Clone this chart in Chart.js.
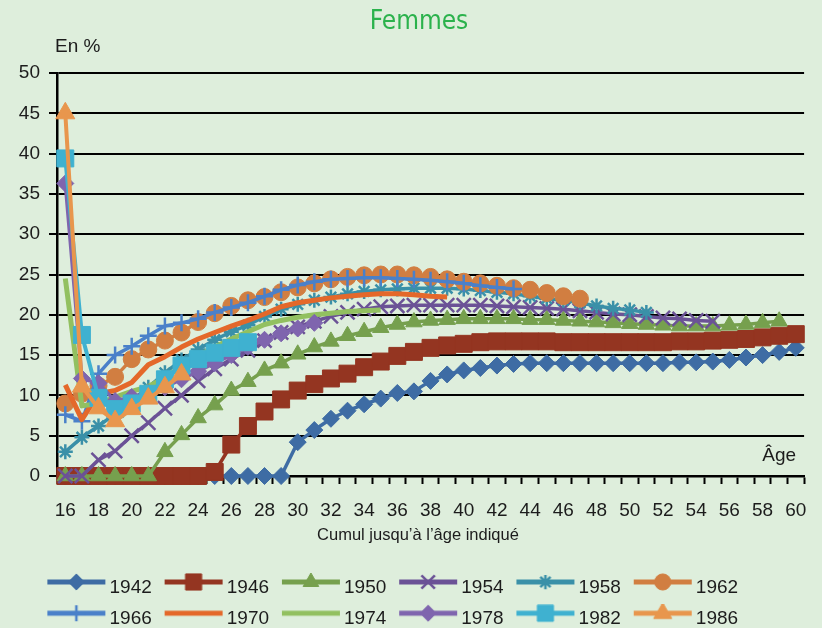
<!DOCTYPE html>
<html lang="fr">
<head>
<meta charset="utf-8">
<title>Femmes</title>
<script src="https://cdn.jsdelivr.net/npm/chart.js@4.4.1/dist/chart.umd.min.js"></script>
<style>
  html, body { margin: 0; padding: 0; background: #deeedc; }
  #wrap { width: 822px; height: 628px; }
</style>
</head>
<body>
<div id="wrap"><canvas id="chart" width="822" height="628"></canvas></div>
<script>
// ages on the x axis (cumul jusqu'à l'âge indiqué)
const ages = [16, 17, 18, 19, 20, 21, 22, 23, 24, 25, 26, 27, 28, 29, 30, 31, 32, 33, 34, 35, 36, 37, 38,
  39, 40, 41, 42, 43, 44, 45, 46, 47, 48, 49, 50, 51, 52, 53, 54, 55, 56, 57, 58, 59, 60];
const cohorts = ['1942', '1946', '1950', '1954', '1958', '1962', '1966', '1970', '1974', '1978', '1982', '1986'];
const yTicks = [0, 5, 10, 15, 20, 25, 30, 35, 40, 45, 50];

// values in %, starting at age 16
const v1942 = [0, 0, 0, 0, 0, 0, 0, 0, 0, 0, 0, 0, 0, 0, 4.2, 5.7, 7.1, 8.1, 8.9, 9.6, 10.3, 10.5, 11.8, 12.6,
  13.1, 13.4, 13.7, 13.9, 14.0, 14.0, 14.0, 14.0, 14.0, 14.0, 14.0, 14.0, 14.0, 14.1, 14.1, 14.2, 14.4, 14.7, 15.0, 15.4, 15.9];
const v1946 = [0, 0, 0, 0, 0, 0, 0, 0, 0, 0.5, 3.9, 6.2, 8.0, 9.5, 10.6, 11.4, 12.1, 12.7, 13.5, 14.2, 14.9, 15.4,
  15.9, 16.2, 16.4, 16.6, 16.7, 16.7, 16.7, 16.7, 16.6, 16.6, 16.6, 16.6, 16.6, 16.6, 16.6, 16.7, 16.7, 16.8, 16.9, 17.0, 17.2, 17.4, 17.6];
const v1950 = [0, 0, 0, 0, 0, 0, 3.0, 5.1, 7.2, 8.8, 10.6, 11.7, 13.1, 14.0, 15.1, 16.0, 16.7, 17.4, 17.9, 18.4, 18.8,
  19.1, 19.3, 19.4, 19.5, 19.5, 19.5, 19.5, 19.4, 19.4, 19.3, 19.2, 19.1, 19.0, 18.9, 18.8, 18.7, 18.6, 18.6, 18.6, 18.7, 18.8, 19.0, 19.2];
const v1954 = [0, 0, 2.0, 3.1, 5.0, 6.6, 8.4, 10.0, 11.8, 13.3, 14.5, 15.6, 16.8, 17.8, 18.5, 19.2, 19.8, 20.3, 20.7, 21.0,
  21.1, 21.2, 21.2, 21.2, 21.2, 21.2, 21.1, 21.0, 20.9, 20.8, 20.7, 20.5, 20.3, 20.1, 20.0, 19.8, 19.6, 19.5, 19.3, 19.2];
const v1958 = [3.0, 4.8, 6.2, 7.7, 9.4, 11.0, 12.8, 14.4, 15.7, 16.9, 17.9, 18.7, 19.8, 20.7, 21.3, 21.8, 22.2, 22.6, 22.9,
  23.1, 23.2, 23.3, 23.3, 23.3, 23.2, 23.0, 22.8, 22.6, 22.3, 22.0, 21.8, 21.5, 21.1, 20.8, 20.6, 20.3];
const v1962 = [9.0, 10.2, 11.2, 12.3, 14.5, 15.7, 16.8, 17.8, 19.1, 20.2, 21.1, 21.8, 22.2, 22.8, 23.4, 23.9, 24.4, 24.7,
  24.9, 25.0, 25.0, 24.9, 24.7, 24.4, 24.1, 23.9, 23.6, 23.3, 23.1, 22.7, 22.3, 22.0];
const v1966 = [7.6, 6.8, 12.7, 15.0, 16.1, 17.4, 18.6, 19.0, 19.5, 20.3, 20.9, 21.5, 22.3, 23.1, 23.7, 24.1, 24.4, 24.5,
  24.6, 24.6, 24.5, 24.4, 24.3, 24.1, 23.9, 23.6, 23.4, 23.2];
const v1970 = [11.3, 7.0, 10.2, 10.6, 11.6, 13.8, 14.8, 16.0, 17.0, 17.8, 18.6, 19.3, 20.1, 21.0, 21.5, 21.8, 22.1, 22.3,
  22.5, 22.6, 22.6, 22.5, 22.3, 22.2];
const v1974 = [24.5, 8.7, 9.0, 9.8, 10.5, 11.1, 12.2, 13.6, 14.9, 16.0, 17.0, 17.9, 18.8, 19.3, 19.7, 20.0, 20.2, 20.4, 20.5, 20.6];
const v1978 = [36.3, 12.1, 11.5, 9.3, 9.8, 10.3, 11.0, 12.0, 13.0, 14.0, 15.0, 16.0, 16.9, 17.7, 18.3, 19.0];
const v1982 = [39.4, 17.5, 9.7, 8.3, 9.0, 10.2, 12.0, 13.7, 14.5, 15.3, 15.9, 16.6];
const v1986 = [45.0, 11.1, 8.4, 6.8, 8.3, 9.6, 11.0, 12.6];

const values = [v1942, v1946, v1950, v1954, v1958, v1962, v1966, v1970, v1974, v1978, v1982, v1986];

// look of each cohort line
const looks = [
  {color: '#3e6ca4', point: 'rectRot', r: 8.5, pw: 1, lw: 3.5},
  {color: '#943521', point: 'rect', r: 12, pw: 1, lw: 3.5},
  {color: '#76a04e', point: 'triangle', r: 9.5, pw: 1, lw: 3.5},
  {color: '#6b5296', point: 'crossRot', r: 10, pw: 2.5, lw: 3.5},
  {color: '#3a90a8', point: 'star', r: 7.5, pw: 2.5, lw: 3.5},
  {color: '#d17e41', point: 'circle', r: 8.5, pw: 1, lw: 3.5},
  {color: '#4a80c9', point: 'cross', r: 8.5, pw: 2.5, lw: 3.5},
  {color: '#e4682a', point: false, r: 0, pw: 0, lw: 5},
  {color: '#92c060', point: false, r: 0, pw: 0, lw: 5},
  {color: '#7f65ae', point: 'rectRot', r: 8.5, pw: 1, lw: 3.5},
  {color: '#3fb1d0', point: 'rect', r: 12, pw: 1, lw: 4},
  {color: '#e8964d', point: 'triangle', r: 11, pw: 1, lw: 4}
];

const FONT = "'Liberation Sans', Arial, sans-serif";
const TEXT = '#1c1c1c';
const LEGEND_BOX = 53.3;

// legend sample: a line with the marker in its middle
function legendIcon(look) {
  const c = document.createElement('canvas');
  c.width = 120; c.height = 30;
  const g = c.getContext('2d');
  g.strokeStyle = look.color;
  g.lineWidth = 5;
  g.beginPath(); g.moveTo(34, 9); g.lineTo(92, 9); g.stroke();
  if (look.point) {
    g.fillStyle = look.color;
    g.lineWidth = look.pw;
    Chart.helpers.drawPoint(g, {pointStyle: look.point, radius: look.r * 0.95, rotation: 0, borderWidth: look.pw}, 63, 9);
  }
  return c;
}
const icons = looks.map(legendIcon);

const datasets = cohorts.map((name, i) => ({
  label: name,
  data: values[i],
  borderColor: looks[i].color,
  backgroundColor: looks[i].color,
  borderWidth: looks[i].lw,
  borderJoinStyle: 'round',
  pointStyle: looks[i].point,
  pointRadius: looks[i].r,
  pointBorderWidth: looks[i].pw,
  pointBackgroundColor: looks[i].color,
  pointBorderColor: looks[i].color,
  clip: false,
  order: cohorts.length - 1 - i
}));

const sideTexts = {
  id: 'sideTexts',
  afterLayout(chart) {
    // title and legend sit a bit right of the y labels
    chart.titleBlock.left = 30;
    chart.legend.left = 34.5;
  },
  afterDraw(chart) {
    const {ctx, chartArea} = chart;
    ctx.save();
    ctx.fillStyle = TEXT;
    ctx.textBaseline = 'middle';
    ctx.font = '19px ' + FONT;
    ctx.textAlign = 'left';
    ctx.fillText('En %', chartArea.left - 2, chartArea.top - 26);
    ctx.textAlign = 'right';
    ctx.fillText('Âge', chartArea.right - 8, chartArea.bottom - 20);
    ctx.font = '16.5px ' + FONT;
    ctx.textAlign = 'center';
    ctx.fillText('Cumul jusqu’à l’âge indiqué', 418, chartArea.bottom + 59);
    ctx.restore();
  }
};

new Chart(document.getElementById('chart'), {
  type: 'line',
  data: {labels: ages, datasets: datasets},
  plugins: [sideTexts],
  options: {
    responsive: false,
    animation: false,
    devicePixelRatio: 1,
    layout: {padding: {left: 0, right: 14, top: 0, bottom: -10.7}},
    plugins: {
      tooltip: {enabled: false},
      title: {
        display: true,
        text: 'Femmes',
        color: '#2bb24c',
        font: {family: "'DejaVu Sans Condensed', 'DejaVu Sans', sans-serif", size: 26, weight: 'normal'},
        padding: {top: 7, bottom: 34.8}
      },
      legend: {
        position: 'bottom',
        align: 'start',
        labels: {
          usePointStyle: true,
          pointStyleWidth: LEGEND_BOX,
          padding: 12.2,
          color: TEXT,
          font: {family: FONT, size: 19},
          generateLabels: chart => chart.data.datasets.map((ds, i) => ({
            text: ds.label,
            pointStyle: icons[i],
            datasetIndex: i,
            hidden: false,
            lineWidth: 0,
            fillStyle: looks[i].color,
            strokeStyle: looks[i].color,
            fontColor: TEXT
          }))
        }
      }
    },
    scales: {
      x: {
        type: 'category',
        offset: true,
        afterFit: s => { s.height = 90.3; },
        grid: {display: true, drawOnChartArea: false, drawTicks: true, tickLength: 8, offset: true,
          color: '#000', tickColor: '#000', tickWidth: 2},
        border: {display: true, color: '#000', width: 2.5},
        ticks: {
          autoSkip: false, maxRotation: 0, minRotation: 0, padding: 15.5,
          color: TEXT, font: {family: FONT, size: 19},
          callback: function (v, i) { return i % 2 === 0 ? String(ages[i]) : ''; }
        }
      },
      y: {
        min: yTicks[0],
        max: yTicks[yTicks.length - 1],
        afterFit: s => { s.width = 57; },
        afterBuildTicks: s => { s.ticks = yTicks.map(v => ({value: v})); },
        grid: {color: '#000', lineWidth: 2, tickLength: 8, drawTicks: true},
        border: {display: true, color: '#000', width: 2.5},
        ticks: {padding: 9, color: TEXT, font: {family: FONT, size: 19}}
      }
    }
  }
});
</script>
</body>
</html>
